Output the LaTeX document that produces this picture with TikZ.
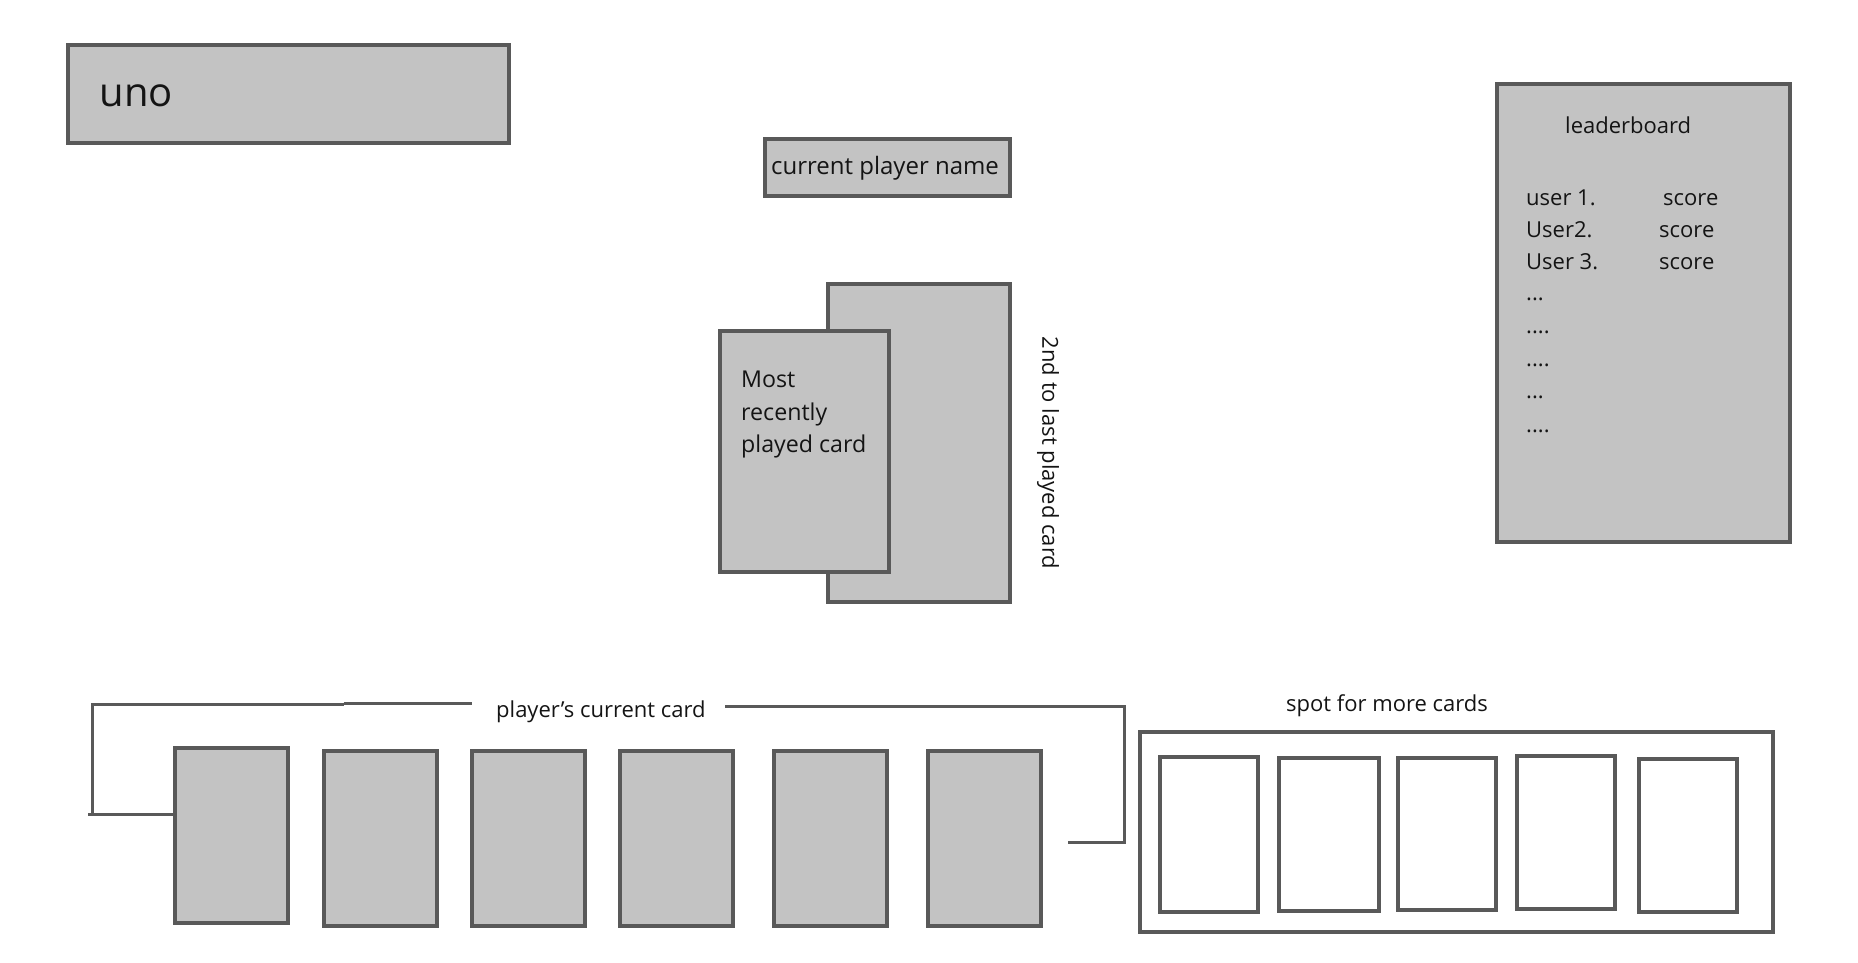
\documentclass[tikz,border=0pt]{standalone}
\usepackage{fontspec}
\setmainfont{Open Sans}
\begin{document}
\begin{tikzpicture}[x=1pt,y=-1pt,
  box/.style={draw=boxline,fill=boxfill,line width=4pt,rectangle,inner sep=0pt},
  slot/.style={draw=boxline,fill=white,line width=4pt,rectangle,inner sep=0pt},
  card/.style={box,minimum width=113pt,minimum height=174.5pt},
  conn/.style={draw=boxline,line width=3pt},
  txt/.style={anchor=base west,inner sep=0pt,text=txtcol,font=\fontsize{22}{22}\selectfont},
  midtxt/.style={txt,font=\fontsize{23.2}{23.2}\selectfont},
  bigtxt/.style={anchor=base west,inner sep=0pt,text=txtcol,font=\fontsize{40}{40}\selectfont}]
\definecolor{boxline}{RGB}{89,89,89}
\definecolor{boxfill}{RGB}{195,195,195}
\definecolor{txtcol}{RGB}{20,20,20}
\useasboundingbox (0,0) rectangle (1858,963);
% title
\node[box,minimum width=441pt,minimum height=98pt] (uno) at (288.5,94) {};
\node[bigtxt] (unot) at (99.5,107) {uno};
% current player
\node[box,minimum width=245pt,minimum height=57pt] (cpn) at (887.5,167.5) {};
\node[txt,font=\fontsize{24}{24}\selectfont] (cpnt) at (771,175) {current player name};
% leaderboard
\node[box,minimum width=293pt,minimum height=458pt] (lb) at (1643.5,313) {};
\node[txt] (lbt) at (1565,134) {leaderboard};
\node[txt] (u1) at (1526,205) {user 1.};
\node[txt] (s1) at (1663,205) {score};
\node[txt] (u2) at (1526,237) {User2.};
\node[txt] (s2) at (1659,237) {score};
\node[txt] (u3) at (1526,269) {User 3.};
\node[txt] (s3) at (1659,269) {score};
\node[txt] (d1) at (1526,300) {...};
\node[txt] (d2) at (1526,333) {....};
\node[txt] (d3) at (1526,366) {....};
\node[txt] (d4) at (1526,398) {...};
\node[txt] (d5) at (1526,432) {....};
% played cards
\node[box,minimum width=182pt,minimum height=318pt] (back) at (919,443) {};
\node[box,minimum width=169pt,minimum height=241pt] (front) at (804.5,451.5) {};
\node[midtxt] (m1) at (741,387) {Most};
\node[midtxt] (m2) at (741,420) {recently};
\node[midtxt] (m3) at (741,452) {played card};
\node[rotate=-90,inner sep=0pt,text=txtcol,font=\fontsize{22}{22}\selectfont] (second) at (1048,453) {2nd to last played card};
% player's cards
\node[card] (c1) at (231.3,835.3) {};
\node[card] (c2) at (380.2,838.5) {};
\node[card] (c3) at (528.5,838.5) {};
\node[card] (c4) at (676,838.5) {};
\node[card] (c5) at (830.6,838.5) {};
\node[card] (c6) at (984.7,838.5) {};
\node[txt] (pct) at (496,717) {player{\char"0027}s current card};
% bracket
\coordinate (bl0) at (87.7,814);
\coordinate (bl1) at (92,814);
\coordinate (bl2) at (92,704.5);
\coordinate (bl3) at (343.6,704.5);
\coordinate (bl4) at (343.6,703.5);
\coordinate (bl5) at (471.6,703.5);
\draw[conn] (c1.west |- bl0) -- (bl0);
\draw[conn] (bl1) -- (bl2) -- (bl3);
\draw[conn] (bl4) -- (bl5);
\coordinate (br0) at (725,706);
\coordinate (br1) at (1124.5,706);
\coordinate (br2) at (1124.5,842.5);
\coordinate (br3) at (1068,842.5);
\draw[conn] (br0) -- (br1) -- (br2) -- (br3);
% spot for more cards
\node[txt] (spt) at (1286,711) {spot for more cards};
\node[slot,minimum width=633pt,minimum height=200.3pt] (spot) at (1456.5,832.2) {};
\node[slot,minimum width=97.7pt,minimum height=154.7pt] (i1) at (1209,834.3) {};
\node[slot,minimum width=99.7pt,minimum height=152.7pt] (i2) at (1328.9,834.3) {};
\node[slot,minimum width=97.7pt,minimum height=151.7pt] (i3) at (1446.9,833.8) {};
\node[slot,minimum width=98pt,minimum height=153pt] (i4) at (1565.5,832.8) {};
\node[slot,minimum width=98pt,minimum height=153pt] (i5) at (1687.5,835.5) {};
\end{tikzpicture}
\end{document}
